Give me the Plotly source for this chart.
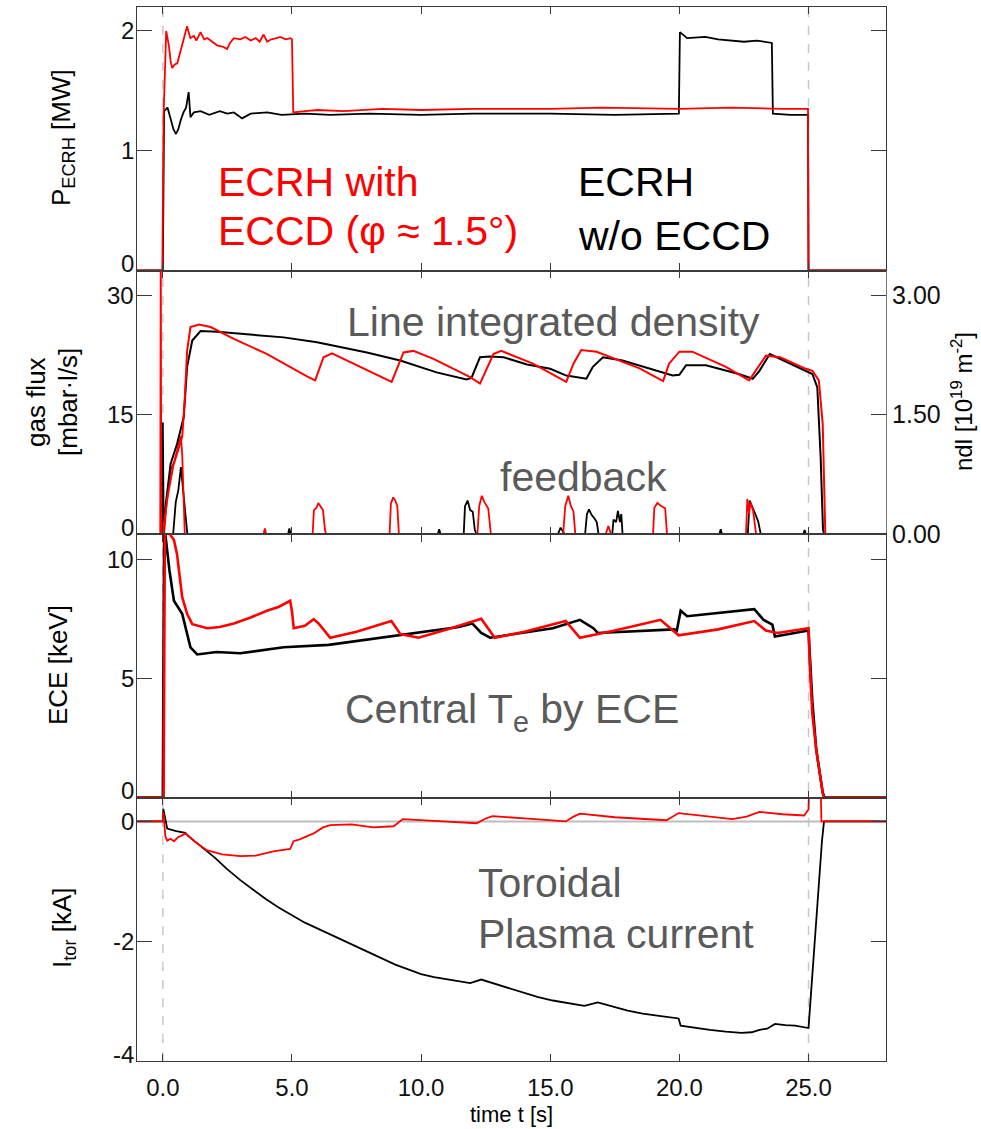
import plotly.graph_objects as go

# ---------------- data ----------------
# Panel 1: ECRH power [MW]
p_red_t = [-1, -0.02, 0.03, 0.13, 0.24, 0.3, 0.36, 0.46, 0.56, 0.65, 0.75, 0.85, 0.94, 1.0, 1.07, 1.2, 1.3,
           1.46, 1.6, 1.72, 1.9, 2.1, 2.3, 2.49, 2.6, 2.75, 3.0, 3.2, 3.4, 3.6, 3.75, 3.9, 4.04, 4.2, 4.4,
           4.55, 4.75, 4.94, 5.0, 5.05, 5.5, 6.0, 7.0, 8.5, 10.0, 12.0, 15.0, 17.0, 20.0, 22.0, 24.0, 24.98,
           25.0, 28]
p_red_v = [0, 0, 1.3, 2.0, 1.87, 1.75, 1.69, 1.72, 1.73, 1.8, 1.89, 1.95, 2.04, 1.99, 1.94, 1.96, 1.92,
           1.99, 1.93, 1.94, 1.91, 1.88, 1.87, 1.85, 1.9, 1.94, 1.93, 1.95, 1.92, 1.94, 1.91, 1.97, 1.91,
           1.93, 1.94, 1.95, 1.93, 1.94, 1.93, 1.32, 1.33, 1.34, 1.33, 1.35, 1.34, 1.35, 1.35, 1.36, 1.35,
           1.36, 1.35, 1.35, 0, 0]
p_blk_t = [-1, 0.0, 0.05, 0.18, 0.31, 0.41, 0.51, 0.6, 0.7, 0.8, 0.9, 1.0, 1.07, 1.2, 1.46, 1.8, 2.2, 2.5,
           2.75, 3.07, 3.4, 4.04, 4.6, 5.5, 6.48, 8.0, 10.0, 12.0, 15.0, 17.5, 19.98, 20.02, 20.3, 21.0,
           21.5, 22.0, 22.5, 23.0, 23.58, 23.62, 24.3, 24.98, 25.0, 28]
p_blk_v = [0, 0, 1.33, 1.36, 1.26, 1.18, 1.14, 1.18, 1.26, 1.32, 1.36, 1.49, 1.28, 1.32, 1.33, 1.30,
           1.33, 1.31, 1.32, 1.27, 1.31, 1.32, 1.30, 1.31, 1.30, 1.31, 1.30, 1.31, 1.31, 1.30, 1.31, 1.99,
           1.94, 1.95, 1.93, 1.92, 1.91, 1.92, 1.90, 1.31, 1.30, 1.30, 0, 0]

# Panel 2: gas flux [mbar l/s] (feedback) and line integrated density [1e19 m^-2]
gas_blk_t = [-1, -0.02, 0.0, 0.02, 0.04, 0.4, 0.5, 0.6, 0.7, 0.8, 0.95, 4.85, 4.9, 4.95, 10.65, 10.7, 10.75,
             11.65, 11.7, 11.8, 11.9, 12.0, 12.08, 12.15, 15.3, 15.4, 15.55, 16.35, 16.42, 16.5, 16.6, 16.7,
             16.8, 16.87, 17.4, 17.45, 17.55, 17.62, 17.7, 17.75, 17.8, 21.55, 21.6, 21.65, 22.65, 22.72,
             22.8, 22.9, 23.05, 23.15, 24.8, 24.85, 24.9, 28]
gas_blk_v = [0, 0, 14, 0, -1, 0, 4, 5.5, 8.4, 5, 0, 0, 0.7, 0, 0, 0.6, 0,
             0, 3.5, 4.2, 3.0, 2.8, 0.5, 0, 0, 0.8, 0, 0, 2.5, 3.1, 2.4, 2.0,
             1.5, 0, 0, 1.8, 1.5, 2.9, 1.5, 2.5, 0, 0, 0.6, 0, 0, 4.2,
             3.5, 2.8, 1.6, 0, 0, 0.5, 0, 0]
gas_red_t = [-1, -0.1, -0.08, -0.06, 0.0, 0.05, 0.15, 0.3, 0.45, 0.6, 0.7, 0.75, 0.8, 0.85, 3.9, 3.95, 4.0,
             5.8, 5.85, 5.95, 6.02, 6.1, 6.2, 6.28, 6.32, 8.78, 8.83, 8.92, 9.0, 9.08, 9.14,
             12.18, 12.25, 12.35, 12.45, 12.6, 12.7, 15.5, 15.58, 15.7, 15.8, 15.9, 15.97,
             17.15, 17.25, 17.35, 18.98, 19.03, 19.15, 19.3, 19.45, 19.52,
             22.58, 22.63, 22.7, 22.75, 22.85, 22.97, 28]
gas_red_v = [0, 0, 40, 0, -1, 0, 4, 8, 9.2, 11, 12.3, 10, 3, 0, 0, 0.7, 0,
             0, 3.0, 3.3, 3.9, 3.5, 3.0, 0.5, 0, 0, 3.8, 4.6, 4.2, 3.5, 0,
             0, 3.5, 4.8, 4.0, 3.2, 0, 0, 3.5, 4.8, 3.5, 2.8, 0,
             0, 1.0, 0, 0, 3.3, 3.9, 3.5, 3.2, 0,
             0, 4.4, 2.5, 4.0, 3.0, 0, 0]

nd_red_t = [-1, 0.0, 0.05, 0.2, 0.4, 0.6, 0.75, 0.85, 0.94, 1.07, 1.4, 1.85, 2.75, 4.04, 4.68, 5.58, 5.9, 6.22,
            6.55, 7.25, 8.54, 8.86, 9.32, 9.7, 10.48, 11.9, 12.28, 12.8, 13.1, 14.33, 15.62, 15.9, 16.2, 16.8,
            18.46, 19.37, 19.6, 20.0, 20.5, 21.8, 22.7, 22.96, 23.35, 23.9, 24.9, 25.15, 25.4, 25.55, 25.65, 28]
nd_red_v = [0, 0, 0.15, 0.5, 0.85, 1.05, 1.22, 1.7, 2.3, 2.6, 2.63, 2.6, 2.45, 2.26, 2.14, 1.98, 1.93, 2.22,
            2.27, 2.16, 1.96, 1.91, 2.28, 2.3, 2.2, 1.97, 1.89, 2.26, 2.3, 2.14, 1.91, 2.14, 2.31, 2.29,
            2.08, 1.92, 2.14, 2.29, 2.29, 2.1, 1.93, 2.05, 2.24, 2.22, 2.075, 2.05, 1.93, 1.38, 0, 0]
nd_blk_t = [-1, 0.0, 0.04, 0.3, 0.55, 0.81, 0.94, 1.14, 1.46, 2.1, 4.68, 5.97, 7.9, 9.19, 10.6, 11.76, 11.95,
            12.28, 12.66, 13.2, 14.1, 15.0, 15.62, 16.4, 16.65, 17.04, 17.8, 19.1, 19.74, 20.0, 20.26, 21.03,
            22.3, 22.84, 23.1, 23.5, 23.9, 24.76, 25.15, 25.34, 25.47, 25.56, 25.6, 28]
nd_blk_v = [0, 0, 0.17, 0.88, 1.13, 1.47, 2.1, 2.43, 2.55, 2.54, 2.47, 2.41, 2.28, 2.18, 2.03, 1.94, 1.96,
            2.22, 2.23, 2.22, 2.13, 2.075, 1.99, 1.95, 2.1, 2.22, 2.18, 2.05, 1.99, 2.0, 2.12, 2.12,
            2.01, 1.95, 2.05, 2.26, 2.2, 2.075, 2.01, 1.84, 0.96, 0.06, 0, 0]

# Panel 3: central electron temperature from ECE [keV]
ece_red_t = [-1, 0.0, 0.03, 0.08, 0.3, 0.43, 0.55, 0.75, 0.94, 1.14, 1.4, 1.72, 2.2, 2.75, 3.4, 4.03, 4.5,
             4.93, 5.0, 5.07, 5.5, 5.84, 6.03, 6.48, 7.5, 8.85, 9.2, 9.9, 11.0, 12.33, 12.85, 14.0, 15.6,
             16.15, 17.5, 19.27, 19.97, 21.5, 22.9, 23.35, 23.8, 25.0, 25.05, 25.15, 25.3, 25.45, 25.55,
             25.62, 25.7, 28]
ece_red_v = [0, 0, 0, 11.5, 11.0, 10.8, 10.2, 8.4, 7.7, 7.27, 7.2, 7.1, 7.15, 7.3, 7.55, 7.83, 8.0,
             8.25, 7.8, 7.1, 7.2, 7.48, 7.3, 6.7, 6.95, 7.4, 6.85, 6.7, 7.05, 7.5, 6.7, 6.95, 7.4,
             6.7, 7.0, 7.45, 6.8, 7.05, 7.4, 7.0, 6.9, 7.1, 5.5, 3.5, 2.0, 0.8, 0.2,
             -0.1, 0, 0]
ece_blk_t = [-1, 0.0, 0.05, 0.1, 0.26, 0.43, 0.75, 1.07, 1.33, 2.08, 3.0, 4.68, 6.42, 9.0, 11.46, 11.98,
             12.33, 12.67, 15.1, 16.15, 16.67, 16.84, 18.58, 19.8, 19.9, 20.05, 20.3, 22.05, 22.9, 23.26,
             23.6, 23.7, 25.0, 25.05, 25.15, 25.3, 25.45, 25.55, 25.62, 28]
ece_blk_v = [0, 0, 11.2, 11.0, 9.5, 8.25, 7.7, 6.3, 6.0, 6.1, 6.05, 6.3, 6.4, 6.8, 7.15, 7.3,
             6.9, 6.7, 7.1, 7.45, 7.1, 6.9, 7.0, 7.05, 7.0, 7.83, 7.6, 7.8, 7.9, 7.45,
             7.25, 6.75, 7.0, 6.0, 4.0, 2.0, 0.8, 0.2, 0, 0]

# Panel 4: toroidal plasma current [kA]
it_blk_t = [-1, 0.0, 0.02, 0.17, 0.52, 0.87, 1.0, 1.5, 2.0, 2.5, 3.0, 3.5, 4.0, 4.5, 5.0, 5.5, 6.0, 6.5, 7.0,
            7.5, 8.0, 8.5, 9.0, 9.5, 10.0, 10.5, 11.0, 11.5, 11.9, 12.33, 13.0, 13.37, 14.0, 14.5, 15.1,
            15.7, 16.32, 16.84, 17.5, 18.0, 18.58, 19.3, 19.97, 20.05, 20.6, 21.18, 21.8, 22.4, 22.8, 23.1,
            23.4, 23.7, 24.1, 24.48, 25.0, 25.17, 25.35, 25.52, 25.6, 28]
it_blk_v = [0, 0, 0.21, -0.12, -0.16, -0.19, -0.25, -0.42, -0.6, -0.8, -0.98, -1.14, -1.3, -1.44, -1.57,
            -1.69, -1.79, -1.89, -1.99, -2.09, -2.2, -2.3, -2.39, -2.47, -2.55, -2.6, -2.64, -2.68, -2.70,
            -2.64, -2.73, -2.79, -2.87, -2.93, -2.99, -3.04, -3.08, -3.02, -3.1, -3.16, -3.21, -3.25, -3.29,
            -3.41, -3.45, -3.48, -3.51, -3.53, -3.52, -3.48, -3.46, -3.38, -3.40, -3.41, -3.45, -2.43,
            -1.32, -0.33, 0, 0]
it_red_t = [-1, 0.0, 0.02, 0.1, 0.17, 0.3, 0.43, 0.6, 0.71, 0.88, 1.22, 1.7, 2.3, 3.0, 3.6, 4.28, 4.93,
            5.06, 5.3, 5.84, 6.2, 6.48, 7.3, 8.15, 8.94, 9.29, 10.5, 12.15, 12.5, 12.76, 14.0, 15.6, 15.9,
            16.15, 17.5, 19.5, 19.97, 21.0, 22.05, 22.6, 23.1, 24.0, 24.83, 25.0, 25.05, 25.45, 25.5, 28]
it_red_v = [0, 0, 0.15, -0.25, -0.32, -0.29, -0.33, -0.26, -0.24, -0.2, -0.33, -0.48, -0.55, -0.58, -0.57,
            -0.5, -0.46, -0.33, -0.3, -0.2, -0.1, -0.06, -0.05, -0.1, -0.08, 0.04, 0.01, -0.03, 0.05, 0.09,
            0.05, 0.0, 0.08, 0.13, 0.07, 0.02, 0.14, 0.09, 0.04, 0.08, 0.16, 0.12, 0.1, 0.2, 1.0,
            1.0, 0, 0]

x_ticks = [0, 5, 10, 15, 20, 25]
x_ticktext = ["0.0", "5.0", "10.0", "15.0", "20.0", "25.0"]
y1_ticks, y1_text = [0, 1, 2], ["0", "1", "2"]
y2_ticks, y2_text = [0, 15, 30], ["0", "15", "30"]
y3_ticks, y3_text = [0, 5, 10], ["0", "5", "10"]
y4_ticks, y4_text = [-4, -2, 0], ["-4", "-2", "0"]
nd_ticks, nd_text = [0, 1.5, 3.0], ["0.00", "1.50", "3.00"]

# ---------------- figure ----------------
W, H = 981, 1129
L, R, T, B = 137, 95, 7, 68
PW, PH = W - L - R, H - T - B

def px(xp):
    return (xp - L) / PW

def py(yp):
    return (H - B - yp) / PH

FONT = "Liberation Sans, Arial, Helvetica, sans-serif"
RED = "#ff0000"
BLK = "#000000"
GRAY_TXT = "#5a5a5a"

fig = go.Figure()

def add(t, v, color, xa, ya, width=1.8):
    fig.add_trace(go.Scatter(x=t, y=v, mode="lines", line=dict(color=color, width=width),
                             xaxis=xa, yaxis=ya, showlegend=False, hoverinfo="skip"))

add(p_blk_t, p_blk_v, BLK, "x", "y")
add(p_red_t, p_red_v, RED, "x", "y")
add(gas_blk_t, gas_blk_v, BLK, "x2", "y2")
add(gas_red_t, gas_red_v, RED, "x2", "y2")
add(nd_blk_t, nd_blk_v, BLK, "x2", "y5", 2.0)
add(nd_red_t, nd_red_v, RED, "x2", "y5", 2.0)
add(ece_blk_t, ece_blk_v, BLK, "x3", "y3", 2.6)
add(ece_red_t, ece_red_v, RED, "x3", "y3", 2.6)
add(it_blk_t, it_blk_v, BLK, "x4", "y4", 1.8)
add(it_red_t, it_red_v, RED, "x4", "y4", 1.8)

frame = dict(showline=True, linecolor="#3a3a3a", linewidth=1, mirror="allticks",
             ticks="inside", tickcolor="#3a3a3a", showgrid=False, zeroline=False)

def xax(anchor, show_labels):
    return dict(frame, range=[-1, 28], tickvals=x_ticks, ticktext=x_ticktext, ticklen=7,
                anchor=anchor, showticklabels=show_labels,
                tickfont=dict(family=FONT, size=24, color="#111"))

doms = [[0.75, 1.0], [0.5, 0.75], [0.25, 0.5], [0.0, 0.25]]

def yax(dom, rng, tv, anchor):
    return dict(frame, domain=dom, range=rng, tickvals=tv, ticklen=15, showticklabels=False,
                anchor=anchor)

fig.update_layout(
    width=W, height=H,
    margin=dict(l=L, r=R, t=T, b=B),
    paper_bgcolor="white", plot_bgcolor="white",
    xaxis=xax("y", False),
    xaxis2=dict(xax("y2", False), matches="x"),
    xaxis3=dict(xax("y3", False), matches="x"),
    xaxis4=dict(xax("y4", True), matches="x", ticklabelstandoff=5),
    yaxis=yax(doms[0], [0, 2.2], y1_ticks, "x"),
    yaxis2=yax(doms[1], [0, 33.1], y2_ticks, "x2"),
    yaxis3=yax(doms[2], [0, 11.05], y3_ticks, "x3"),
    yaxis4=yax(doms[3], [-4.0, 0.4], y4_ticks, "x4"),
    yaxis5=dict(overlaying="y2", side="right", anchor="x2", range=[0, 3.31],
                tickvals=nd_ticks, ticktext=nd_text, ticks="inside", ticklen=14,
                tickcolor="#3a3a3a", showline=True, linecolor="#777", linewidth=1.2, showgrid=False,
                zeroline=False, tickfont=dict(family=FONT, size=25, color="#111")),
)

shapes = []
for tv in [0, 25]:
    shapes.append(dict(type="line", xref="x", yref="paper", x0=tv, x1=tv, y0=0, y1=1,
                       line=dict(color="#c8c8c8", width=1.5, dash="dash"), layer="below"))
shapes.append(dict(type="line", xref="x4 domain", yref="y4", x0=0, x1=1, y0=0, y1=0,
                   line=dict(color="#bdbdbd", width=2), layer="below"))
fig.update_layout(shapes=shapes)

ann = []

def txt(text, x, y, size, color, xanchor="left", angle=0):
    ann.append(dict(text=text, x=px(x), y=py(y), xref="paper", yref="paper", showarrow=False,
                    xanchor=xanchor, yanchor="middle", textangle=angle,
                    font=dict(family=FONT, size=size, color=color)))

# left tick labels, positioned through each y axis (bottom label of a panel raised a little)
def yticklabels(yref, vals, texts, bottom_val):
    for v, s in zip(vals, texts):
        ann.append(dict(text=s, x=px(136), xref="paper", y=v, yref=yref, showarrow=False,
                        xanchor="right", yanchor="middle", yshift=7 if v == bottom_val else 0,
                        font=dict(family=FONT, size=24, color="#111")))

yticklabels("y", y1_ticks, y1_text, 0)
yticklabels("y2", y2_ticks, y2_text, 0)
yticklabels("y3", y3_ticks, y3_text, 0)
yticklabels("y4", y4_ticks, y4_text, -4)

# in-panel labels
txt("ECRH with", 216, 182, 41, RED)
txt("ECCD (φ ≈ 1.5°)", 216, 231, 41, RED)
txt("ECRH", 576, 182, 41, BLK)
txt("w/o ECCD", 576, 236, 41, BLK)
txt("Line integrated density", 345, 322, 41, GRAY_TXT)
txt("feedback", 498, 477, 41, GRAY_TXT)
txt("Central T<sub>e</sub> by ECE", 343, 712, 41, GRAY_TXT)
txt("Toroidal", 476, 883, 41, GRAY_TXT)
txt("Plasma current", 476, 934, 41, GRAY_TXT)

# axis titles
txt("P<sub>ECRH</sub> [MW]", 63, 138, 26, BLK, "center", -90)
txt("gas flux", 36, 402, 26, BLK, "center", -90)
txt("[mbar·l/s]", 68, 402, 26, BLK, "center", -90)
txt("ECE [keV]", 58, 665, 26, BLK, "center", -90)
txt("I<sub>tor</sub> [kA]", 63, 928, 26, BLK, "center", -90)
txt("ndl [10<sup>19</sup> m<sup>-2</sup>]", 962, 402, 24, BLK, "center", -90)
txt("time t [s]", 511, 1114, 22, BLK, "center")

fig.update_layout(annotations=ann)

fig.write_html("out.html")
